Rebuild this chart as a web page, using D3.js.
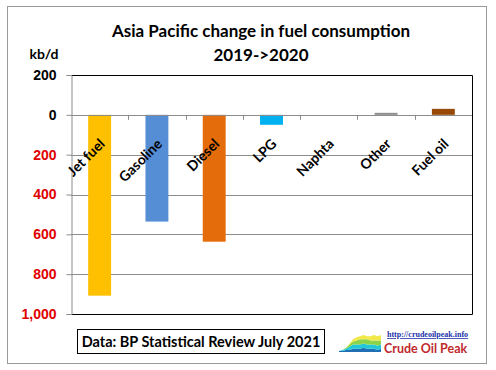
<!DOCTYPE html>
<html>
<head>
<meta charset="utf-8">
<script src="https://cdn.jsdelivr.net/npm/d3@7"></script>
<style>
  body { margin: 0; background: #fff; }
  svg { display: block; font-family: Lato, "Open Sans", sans-serif; }
</style>
</head>
<body>
<div id="chart"></div>
<script>
// fuel categories and change 2019->2020, kb/d
var fuels = ["Jet fuel", "Gasoline", "Diesel", "LPG", "Naphta", "Other", "Fuel oil"];
var change = [-908, -536, -637, -50, 0, 10, 30];
var barColors = ["#FFC000", "#558ED5", "#E46C0A", "#00B0F0", "#7F7F7F", "#8C8C8C", "#984807"];
var yTicks = [200, 0, -200, -400, -600, -800, -1000];

// little logo picture, stacked layers
var logoLayers = [
  [1, 1, 2, 2, 3, 3, 3, 4, 3, 3, 3, 2, 3],
  [0, 1, 1, 3, 4, 4, 4, 4, 4, 4, 4, 4, 4],
  [0, 0, 1, 2, 3, 4, 5, 4, 5, 4, 4, 5, 4],
  [0, 0, 0, 1, 2, 3, 3, 4, 3, 4, 5, 4, 5]
];
var logoColors = ["#1f6fb4", "#22c8d8", "#8ad34a", "#f1e84a"];

var width = 496, height = 370;
var m = { left: 71, right: 472, top: 75, bottom: 314 };
var r = Math.round;

var svg = d3.select("#chart")
  .append("svg")
  .attr("width", width)
  .attr("height", height);

svg.append("rect")
  .attr("x", 7.5).attr("y", 6.5)
  .attr("width", 479).attr("height", 357)
  .attr("fill", "#fff")
  .attr("stroke", "#999");

var x = d3.scaleBand()
  .domain(fuels)
  .range([m.left, m.right])
  .paddingInner(0.6)
  .paddingOuter(0.3);

var y = d3.scaleLinear()
  .domain([200, -1000])
  .range([m.top, m.bottom]);

// gridlines
svg.append("g")
  .selectAll("line")
  .data(yTicks.filter(function(d) { return d != 200 && d != -1000; }))
  .enter()
  .append("line")
  .attr("x1", m.left).attr("x2", m.right)
  .attr("y1", function(d) { return r(y(d)) + 0.5; })
  .attr("y2", function(d) { return r(y(d)) + 0.5; })
  .attr("stroke", "#8c8c8c");

// frame top, right, bottom
svg.append("path")
  .attr("d", "M" + m.left + "," + (r(y(200)) + 0.5) + "H" + (m.right + 0.5) + "V" + (r(y(-1000)) + 0.5) + "H" + m.left)
  .attr("fill", "none")
  .attr("stroke", "#000");

// bars
svg.selectAll(".bar")
  .data(change)
  .enter()
  .append("rect")
  .attr("class", "bar")
  .attr("x", function(d, i) { return x(fuels[i]); })
  .attr("width", x.bandwidth())
  .attr("y", function(d) { return y(Math.max(d, 0)); })
  .attr("height", function(d) { return Math.abs(y(d) - y(0)); })
  .attr("fill", function(d, i) { return barColors[i]; });

// y axis
var yAxis = svg.append("g")
  .attr("transform", "translate(" + (m.left + 0.5) + ",0)")
  .call(d3.axisLeft(y)
    .tickValues(yTicks)
    .tickSize(5)
    .tickPadding(10)
    .tickFormat(function(d) { return d3.format(",")(Math.abs(d)); }));
yAxis.select(".domain").attr("stroke", "#8c8c8c");
yAxis.selectAll(".tick line").attr("stroke", "#8c8c8c");
yAxis.selectAll(".tick text")
  .attr("font-size", 14)
  .attr("font-weight", "bold")
  .attr("fill", function(d) { return d < 0 ? "#e00000" : "#000"; });

// zero line with category ticks
var step = (m.right - m.left) / fuels.length;
svg.append("line")
  .attr("x1", m.left).attr("x2", m.right)
  .attr("y1", r(y(0)) + 0.5).attr("y2", r(y(0)) + 0.5)
  .attr("stroke", "#8c8c8c");
svg.append("g")
  .selectAll("line")
  .data(d3.range(1, fuels.length))
  .enter()
  .append("line")
  .attr("x1", function(d) { return r(m.left + d * step) + 0.5; })
  .attr("x2", function(d) { return r(m.left + d * step) + 0.5; })
  .attr("y1", y(0)).attr("y2", y(0) + 5)
  .attr("stroke", "#8c8c8c");

// category labels
svg.append("g")
  .selectAll("text")
  .data(fuels)
  .enter()
  .append("text")
  .attr("transform", function(d) {
    return "translate(" + (x(d) + x.bandwidth() / 2 + 6) + "," + (y(0) + 30) + ") rotate(-45)";
  })
  .attr("text-anchor", "end")
  .attr("font-size", 14)
  .attr("font-weight", "bold")
  .attr("fill", "#000")
  .text(function(d) { return d; });

// titles
svg.append("text")
  .attr("x", 261).attr("y", 37)
  .attr("text-anchor", "middle")
  .attr("font-size", 17)
  .attr("font-weight", "bold")
  .text("Asia Pacific change in fuel consumption");
svg.append("text")
  .attr("x", 261).attr("y", 61)
  .attr("text-anchor", "middle")
  .attr("font-size", 17)
  .attr("font-weight", "bold")
  .text("2019->2020");
svg.append("text")
  .attr("x", 44).attr("y", 59)
  .attr("text-anchor", "middle")
  .attr("font-size", 14)
  .attr("font-weight", "bold")
  .text("kb/d");

// source box
svg.append("rect")
  .attr("x", 77.5).attr("y", 329.5)
  .attr("width", 247).attr("height", 24)
  .attr("fill", "#fff")
  .attr("stroke", "#000");
svg.append("text")
  .attr("x", 201).attr("y", 347)
  .attr("text-anchor", "middle")
  .attr("font-size", 14.5)
  .attr("font-weight", "bold")
  .text("Data: BP Statistical Review July 2021");

// logo
var lx = d3.scaleLinear().domain([0, 12]).range([339, 381]);
var ly = d3.scaleLinear().domain([0, 18]).range([352, 333]);
var stacked = d3.stack().keys(d3.range(logoLayers.length))(
  d3.range(logoLayers[0].length).map(function(i) {
    return logoLayers.map(function(l) { return l[i]; });
  }));
svg.append("g")
  .selectAll("path")
  .data(stacked)
  .enter()
  .append("path")
  .attr("fill", function(d, i) { return logoColors[i]; })
  .attr("d", d3.area()
    .x(function(d, i) { return lx(i); })
    .y0(function(d) { return ly(d[0]); })
    .y1(function(d) { return ly(d[1]); }));
svg.append("text")
  .attr("x", 387).attr("y", 337)
  .attr("font-family", "'Liberation Serif', serif")
  .attr("font-size", 8)
  .attr("font-weight", "bold")
  .attr("fill", "#2233aa")
  .attr("text-decoration", "underline")
  .text("http://crudeoilpeak.info");
svg.append("text")
  .attr("x", 384).attr("y", 353)
  .attr("font-size", 12.5)
  .attr("font-weight", "bold")
  .attr("fill", "#c0282d")
  .text("Crude Oil Peak");
</script>
</body>
</html>
